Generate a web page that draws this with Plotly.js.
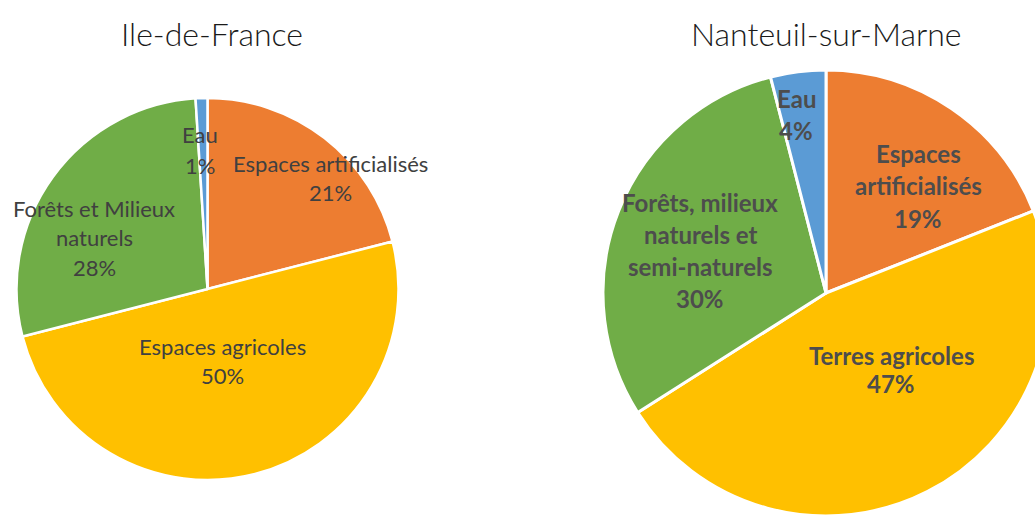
<!DOCTYPE html>
<html>
<head>
<meta charset="utf-8">
<script src="https://cdn.plot.ly/plotly-3.0.1.min.js"></script>
<style>
html,body{margin:0;padding:0;overflow:hidden;background:#fff;}
#chart{width:1060px;height:523px;}
</style>
</head>
<body>
<div id="chart"></div>
<script>
// ---- Data ----
const titleLeft = "Ile-de-France";
const titleRight = "Nanteuil-sur-Marne";

const idfCategories = ["Espaces artificialisés", "Espaces agricoles", "Forêts et Milieux naturels", "Eau"];
const idfValues = [21, 50, 28, 1];
const idfLabelLines = [["Espaces artificialisés"], ["Espaces agricoles"], ["Forêts et Milieux", "naturels"], ["Eau"]];

const nsmCategories = ["Espaces artificialisés", "Terres agricoles", "Forêts, milieux naturels et semi-naturels", "Eau"];
const nsmValues = [19, 47, 30, 4];
const nsmLabelLines = [["Espaces", "artificialisés"], ["Terres agricoles"], ["Forêts, milieux", "naturels et", "semi-naturels"], ["Eau"]];

const sliceColors = ["#ED7D31", "#FFC000", "#70AD47", "#5B9BD5"];

// ---- Layout helpers (pixel positions of label blocks) ----
const W = 1060, H = 523;
const idfLabelPos = [[330, 163, 29.5], [222, 346, 29.5], [94, 208, 29.5], [200, 135, 30]];
const nsmLabelPos = [[918, 153, 32.5], [891, 355, 28.5], [700, 202, 32], [796, 98, 32]];

function px(x) { return x / W; }
function py(y) { return 1 - y / H; }

function makeLabels(lines, values, pos, font) {
  const out = [];
  lines.forEach((ls, i) => {
    const all = ls.concat([values[i] + "%"]);
    all.forEach((t, j) => {
      out.push({
        text: t, xref: "paper", yref: "paper",
        x: px(pos[i][0]), y: py(pos[i][1] + j * pos[i][2]),
        xanchor: "center", yanchor: "middle", showarrow: false,
        font: font
      });
    });
  });
  return out;
}

const leftFont = {family: "Lato, 'Open Sans', sans-serif", size: 22, color: "#404040"};
const rightFont = {family: "Lato, 'Open Sans', sans-serif", size: 24, color: "#4d4d4d", weight: "bold"};

const traces = [
  {
    type: "pie", labels: idfCategories, values: idfValues,
    sort: false, direction: "clockwise", rotation: 0,
    marker: {colors: sliceColors, line: {color: "#ffffff", width: 2.5}},
    textinfo: "none", hoverinfo: "skip",
    domain: {x: [px(16.5), px(398.5)], y: [py(480), py(98)]}
  },
  {
    type: "pie", labels: nsmCategories, values: nsmValues,
    sort: false, direction: "clockwise", rotation: 0,
    marker: {colors: sliceColors, line: {color: "#ffffff", width: 3}},
    textinfo: "none", hoverinfo: "skip",
    domain: {x: [px(603), px(1049)], y: [py(516), py(70)]}
  }
];

const titleFont = {family: "Lato, 'Open Sans', sans-serif", size: 32, color: "#1a1a1a", weight: 300};
const annotations = [
  {text: titleLeft, xref: "paper", yref: "paper", x: px(212), y: py(33), xanchor: "center", yanchor: "middle", showarrow: false, font: titleFont},
  {text: titleRight, xref: "paper", yref: "paper", x: px(826), y: py(33), xanchor: "center", yanchor: "middle", showarrow: false, font: titleFont}
].concat(makeLabels(idfLabelLines, idfValues, idfLabelPos, leftFont))
 .concat(makeLabels(nsmLabelLines, nsmValues, nsmLabelPos, rightFont));

const layout = {
  width: W, height: H,
  margin: {l: 0, r: 0, t: 0, b: 0},
  paper_bgcolor: "#ffffff",
  showlegend: false,
  annotations: annotations
};

Plotly.newPlot("chart", traces, layout, {displayModeBar: false, staticPlot: true});
</script>
</body>
</html>
